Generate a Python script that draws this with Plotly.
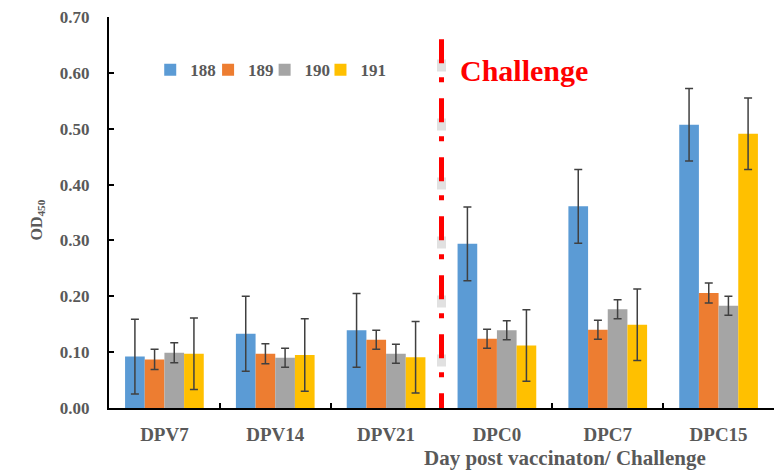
import plotly.graph_objects as go

# Sampling days (vaccination / challenge phases)
days = ["DPV7", "DPV14", "DPV21", "DPC0", "DPC7", "DPC15"]
challenge_day = "DPC0"

# Mean OD450 per group
od_188 = [0.092, 0.133, 0.139, 0.294, 0.361, 0.507]
od_189 = [0.087, 0.097, 0.122, 0.124, 0.140, 0.206]
od_190 = [0.099, 0.090, 0.097, 0.139, 0.177, 0.183]
od_191 = [0.097, 0.095, 0.091, 0.112, 0.149, 0.491]

# Standard deviations
sd_188 = [0.067, 0.067, 0.066, 0.066, 0.066, 0.065]
sd_189 = [0.018, 0.018, 0.017, 0.017, 0.017, 0.018]
sd_190 = [0.018, 0.017, 0.017, 0.017, 0.017, 0.017]
sd_191 = [0.064, 0.065, 0.064, 0.064, 0.064, 0.064]

groups = ["188", "189", "190", "191"]
colors = ["#5B9BD5", "#ED7D31", "#A5A5A5", "#FFC000"]
means = [od_188, od_189, od_190, od_191]
sds = [sd_188, sd_189, sd_190, sd_191]

SERIF = "Liberation Serif"
TXT = "#595959"

# one single-entry legend per group so the key can be packed tightly
legend_ids = ["legend", "legend2", "legend3", "legend4"]
legend_x = [0.062, 0.149, 0.234, 0.318]

fig = go.Figure()
for name, col, m, s, lg in zip(groups, colors, means, sds, legend_ids):
    fig.add_trace(go.Bar(
        x=days, y=m, name=name, legend=lg,
        marker=dict(color=col, line=dict(width=0)),
        error_y=dict(type="data", array=s, visible=True,
                     color="#404040", thickness=1.5, width=4),
    ))

# dashed marker separating vaccination and challenge phases (drawn top-down)
cx = days.index(challenge_day) - 0.5
line_top = 0.66
fig.add_shape(type="line", xref="x", yref="y", x0=cx, x1=cx, y0=line_top - 0.036, y1=0,
              line=dict(color="rgba(120,120,120,0.22)", width=9, dash="12px,47px"),
              layer="below")
fig.add_shape(type="line", xref="x", yref="y", x0=cx, x1=cx, y0=line_top, y1=0,
              line=dict(color="#FF0000", width=5, dash="24px,14px,5px,16px"))

fig.add_annotation(text="Challenge", xref="paper", yref="paper",
                   x=0.525, y=0.864, xanchor="left", yanchor="middle",
                   showarrow=False,
                   font=dict(family=SERIF, size=30, color="#FF0000", weight="bold"))

fig.add_annotation(text="Day post vaccinaton/ Challenge", xref="paper", yref="paper",
                   x=0.686, y=-0.128, xanchor="center", yanchor="middle",
                   showarrow=False,
                   font=dict(family=SERIF, size=21, color=TXT, weight="bold"))

fig.add_annotation(text="OD<sub>450</sub>", xref="paper", yref="paper",
                   x=-0.108, y=0.48, xanchor="center", yanchor="middle",
                   textangle=-90, showarrow=False,
                   font=dict(family=SERIF, size=16, color=TXT, weight="bold"))

legend_style = dict(orientation="h", y=0.864, xanchor="left", yanchor="middle",
                    font=dict(family=SERIF, size=17, color=TXT, weight="bold"),
                    itemwidth=30, bgcolor="rgba(0,0,0,0)")

fig.update_layout(
    width=781, height=472,
    margin=dict(l=109, r=7, t=17, b=64),
    paper_bgcolor="white", plot_bgcolor="white",
    barmode="group", bargap=0.29, bargroupgap=0,
    showlegend=True,
    xaxis=dict(type="category", showline=True, linecolor="black", linewidth=2,
               ticks="inside", tickson="boundaries", ticklen=5, tickwidth=2,
               tickcolor="black", showgrid=False, ticklabelstandoff=8,
               tickfont=dict(family=SERIF, size=19, color=TXT, weight="bold")),
    yaxis=dict(range=[0, 0.7], dtick=0.1, tickformat=".2f", showline=True,
               linecolor="black", linewidth=2, ticks="inside", ticklen=5,
               tickwidth=2, tickcolor="black", showgrid=False, zeroline=False,
               ticklabelstandoff=14,
               tickfont=dict(family=SERIF, size=17, color=TXT, weight="bold")),
)
for lg, lx in zip(legend_ids, legend_x):
    fig.update_layout({lg: dict(legend_style, x=lx)})

fig.write_html("out.html")
